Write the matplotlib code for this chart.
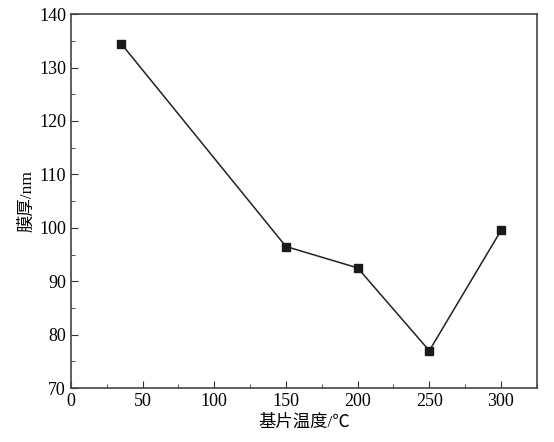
import matplotlib
matplotlib.use("Agg")
from matplotlib import pyplot as plt
from matplotlib.ticker import MultipleLocator

temps = [35, 150, 200, 250, 300]
thickness = [134.5, 96.5, 92.5, 77, 99.5]

plt.rcParams['font.family'] = ['Liberation Serif', 'Noto Sans CJK SC']

fig = plt.figure(figsize=(5.54, 4.42), dpi=100)
ax = fig.add_axes([0.128, 0.122, 0.841, 0.846])

ax.plot(temps, thickness, color='#222222', lw=1.1, marker='s',
        markersize=6, markerfacecolor='#1a1a1a', markeredgecolor='#1a1a1a')

ax.set_xlim(0, 325)
ax.set_ylim(70, 140)
ax.xaxis.set_major_locator(MultipleLocator(50))
ax.xaxis.set_minor_locator(MultipleLocator(25))
ax.yaxis.set_major_locator(MultipleLocator(10))
ax.yaxis.set_minor_locator(MultipleLocator(5))
ax.tick_params(axis='both', which='major', direction='in', length=5,
               labelsize=13, color='#333333', top=False, right=False)
ax.tick_params(axis='both', which='minor', direction='in', length=3,
               color='#333333', top=False, right=False)
for s in ax.spines.values():
    s.set_color('#444444')
    s.set_linewidth(1.2)

ax.set_xlabel('基片温度/℃', fontsize=12.5, labelpad=3)
ax.set_ylabel('膜厚/nm', fontsize=12.5, labelpad=3)

fig.savefig('out.png', dpi=100)
